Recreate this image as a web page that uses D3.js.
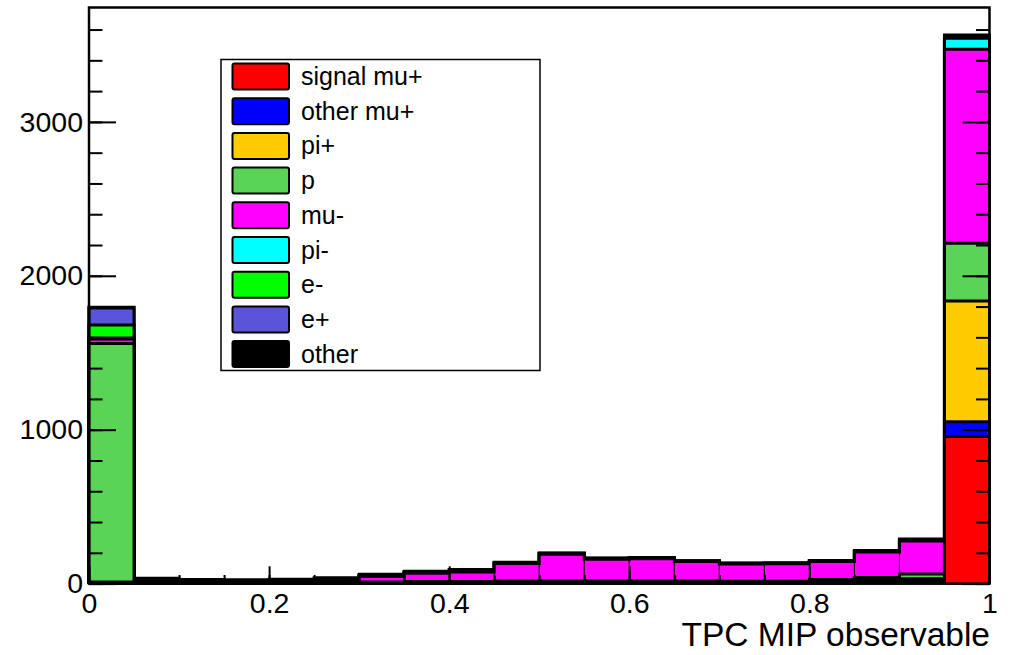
<!DOCTYPE html>
<html>
<head>
<meta charset="utf-8">
<script src="https://cdn.jsdelivr.net/npm/d3@7"></script>
<style>
  html, body { margin: 0; padding: 0; background: #fff; }
  text { font-family: "Liberation Sans", Arial, Helvetica, sans-serif; fill: #000; }
</style>
</head>
<body>
<svg id="chart" width="1011" height="655"></svg>
<script>
// bin edges of the histogram (20 bins)
var binEdges = [0, 0.05, 0.1, 0.15, 0.2, 0.25, 0.3, 0.35, 0.4, 0.45, 0.5,
                0.55, 0.6, 0.65, 0.7, 0.75, 0.8, 0.85, 0.9, 0.95, 1];

// entries per bin, one array per species (stack order, bottom first)
var signalMuPlus = [0, 0, 0, 0, 0, 0, 0, 1, 1, 1, 2, 2, 2, 2, 2, 2, 3, 5, 8, 955];
var otherMuPlus  = [2, 1, 1, 1, 1, 1, 1, 1, 1, 2, 2, 2, 2, 2, 2, 2, 3, 5, 6, 97];
var piPlus       = [8, 2, 2, 2, 2, 2, 2, 3, 3, 4, 4, 4, 4, 4, 4, 4, 8, 12, 18, 785];
var proton       = [1550, 6, 5, 4, 4, 5, 7, 8, 8, 10, 10, 10, 10, 10, 8, 8, 12, 18, 30, 375];
var muMinus      = [30, 2, 2, 3, 5, 12, 36, 55, 62, 113, 172, 140, 144, 125, 112, 113, 118, 165, 215, 1260];
var piMinus      = [5, 1, 1, 1, 1, 2, 2, 2, 3, 2, 2, 2, 2, 2, 2, 2, 3, 4, 5, 72];
var eMinus       = [85, 3, 2, 2, 3, 3, 3, 3, 4, 2, 3, 2, 2, 1, 1, 1, 1, 2, 3, 3];
var ePlus        = [110, 4, 3, 3, 3, 3, 3, 3, 4, 2, 2, 2, 2, 1, 1, 1, 1, 2, 2, 3];
var other        = [5, 15, 10, 9, 9, 10, 6, 4, 5, 3, 2, 2, 2, 2, 2, 2, 1, 2, 3, 15];

var seriesNames = ["signal mu+", "other mu+", "pi+", "p", "mu-", "pi-", "e-", "e+", "other"];
var seriesValues = [signalMuPlus, otherMuPlus, piPlus, proton, muMinus, piMinus, eMinus, ePlus, other];
var seriesColors = ["#ff0000", "#0000ff", "#ffcc00", "#59d454", "#ff00ff", "#00ffff", "#00ff00", "#5954d9", "#000000"];

var xTicks = [0, 0.2, 0.4, 0.6, 0.8, 1];
var xTickLabels = ["0", "0.2", "0.4", "0.6", "0.8", "1"];
var xMinorTicks = binEdges;
var yTicks = [0, 1000, 2000, 3000];
var yTickLabels = ["0", "1000", "2000", "3000"];
var yMinorTicks = [0, 200, 400, 600, 800, 1000, 1200, 1400, 1600, 1800, 2000,
                   2200, 2400, 2600, 2800, 3000, 3200, 3400, 3600];
var xTitle = "TPC MIP observable";

var svg = d3.select("#chart"),
    margin = {top: 7.5, right: 21.5, bottom: 71.4, left: 89},
    width = +svg.attr("width") - margin.left - margin.right,
    height = +svg.attr("height") - margin.top - margin.bottom;

// table for d3.stack
var keys = seriesNames;
var rows = binEdges.slice(0, -1).map(function(e, i) {
  var r = {x0: e, x1: binEdges[i + 1]};
  keys.forEach(function(k, j) { r[k] = seriesValues[j][i]; });
  return r;
});
var layers = d3.stack().keys(keys)(rows);
var totals = rows.map(function(r) { return d3.sum(keys, function(k) { return r[k]; }); });

var x = d3.scaleLinear().domain([0, 1]).range([margin.left, margin.left + width]);
var y = d3.scaleLinear().domain([0, d3.max(totals) * 1.05]).range([margin.top + height, margin.top]);

svg.append("rect").attr("width", 1011).attr("height", 655).attr("fill", "#fff");

var step = d3.line()
    .x(function(d) { return x(d[0]); })
    .y(function(d) { return y(d[1]); })
    .curve(d3.curveStepAfter);

// THStack style: cumulative histograms drawn from the top one down
var g = svg.append("g");
layers.slice().reverse().forEach(function(layer) {
  var color = seriesColors[layer.index];
  var lg = g.append("g");
  lg.selectAll("rect")
    .data(layer)
    .enter().append("rect")
      .attr("x", function(d) { return x(d.data.x0); })
      .attr("width", function(d) { return x(d.data.x1) - x(d.data.x0); })
      .attr("y", function(d) { return y(d[1]); })
      .attr("height", function(d) { return y(0) - y(d[1]); })
      .attr("fill", color)
      .attr("stroke", "#000")
      .attr("stroke-width", 1);
  var pts = [[0, 0]];
  layer.forEach(function(d) { pts.push([d.data.x0, d[1]]); });
  pts.push([1, layer[layer.length - 1][1]]);
  pts.push([1, 0]);
  lg.append("path")
    .attr("d", step(pts))
    .attr("fill", "none")
    .attr("stroke", "#000")
    .attr("stroke-width", 3)
    .attr("stroke-linejoin", "miter");
});

// axes, ROOT style ticks inside the frame
var xMajorLen = 17.3, xMinorLen = 8.6, yMajorLen = 27, yMinorLen = 13.5;

function styleAxis(sel) {
  sel.select(".domain").remove();
  sel.selectAll(".tick line").attr("stroke", "#000").attr("stroke-width", 2);
  sel.selectAll("text").attr("font-size", "28.5px").attr("font-family", null);
}

svg.append("g")
    .attr("transform", "translate(0," + y(0) + ")")
    .call(d3.axisBottom(x).tickValues(xMinorTicks).tickSize(-xMinorLen).tickFormat(""))
    .call(styleAxis);
svg.append("g")
    .attr("transform", "translate(0," + y(0) + ")")
    .call(d3.axisBottom(x).tickValues(xTicks).tickSize(-xMajorLen).tickPadding(9)
      .tickFormat(function(d, i) { return xTickLabels[i]; }))
    .call(styleAxis);

svg.append("g")
    .attr("transform", "translate(" + x(0) + ",0)")
    .call(d3.axisLeft(y).tickValues(yMinorTicks).tickSize(-yMinorLen).tickFormat(""))
    .call(styleAxis);
svg.append("g")
    .attr("transform", "translate(" + x(0) + ",0)")
    .call(d3.axisLeft(y).tickValues(yTicks).tickSize(-yMajorLen).tickPadding(6)
      .tickFormat(function(d, i) { return yTickLabels[i]; }))
    .call(styleAxis);

svg.append("g")
    .attr("transform", "translate(" + x(1) + ",0)")
    .call(d3.axisRight(y).tickValues(yMinorTicks).tickSize(-yMinorLen).tickFormat(""))
    .call(styleAxis);
svg.append("g")
    .attr("transform", "translate(" + x(1) + ",0)")
    .call(d3.axisRight(y).tickValues(yTicks).tickSize(-yMajorLen).tickFormat(""))
    .call(styleAxis);

// frame
svg.append("rect")
    .attr("x", x(0)).attr("y", y.range()[1])
    .attr("width", x(1) - x(0)).attr("height", y(0) - y.range()[1])
    .attr("fill", "none").attr("stroke", "#000").attr("stroke-width", 2.5);

svg.append("text")
    .attr("x", 990).attr("y", 646)
    .attr("text-anchor", "end")
    .attr("font-size", "33.5px")
    .text(xTitle);

// legend
var legend = svg.append("g").attr("transform", "translate(221,59.5)");
legend.append("rect")
    .attr("width", 319).attr("height", 311)
    .attr("fill", "#fff").attr("stroke", "#000").attr("stroke-width", 1.5);
var item = legend.selectAll("g.item")
    .data(seriesNames)
    .enter().append("g")
      .attr("class", "item")
      .attr("transform", function(d, i) { return "translate(0," + (4 + i * 34.7) + ")"; });
item.append("rect")
    .attr("x", 11.5).attr("width", 56.5).attr("height", 26)
    .attr("rx", 2)
    .attr("fill", function(d, i) { return seriesColors[i]; })
    .attr("stroke", "#000").attr("stroke-width", 2);
item.append("text")
    .attr("x", 80).attr("y", 21.5)
    .attr("font-size", "25px")
    .text(function(d) { return d; });
</script>
</body>
</html>
